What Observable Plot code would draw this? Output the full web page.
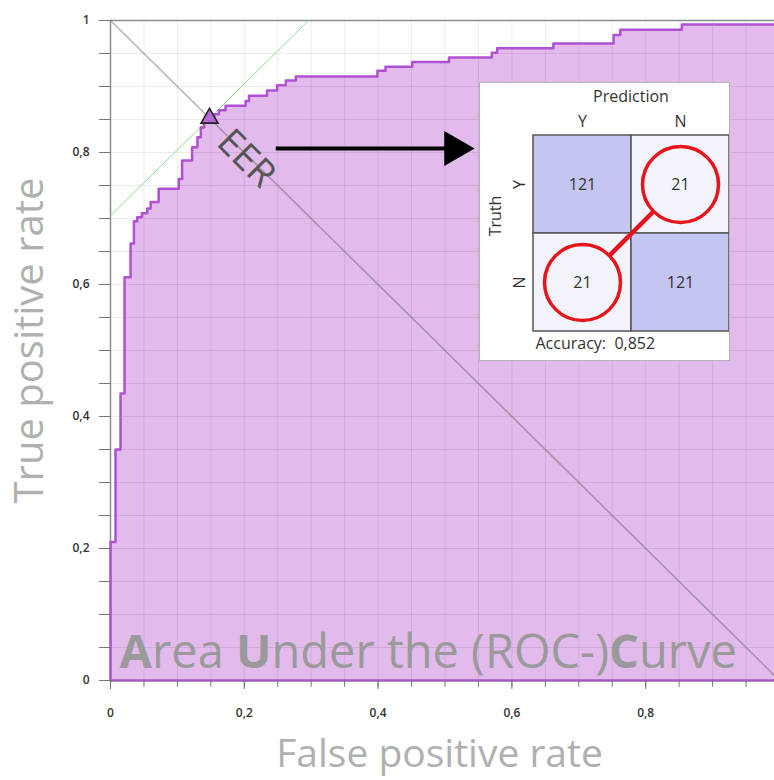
<!DOCTYPE html>
<html>
<head>
<meta charset="utf-8">
<script src="https://cdn.jsdelivr.net/npm/d3@7"></script>
<script src="https://cdn.jsdelivr.net/npm/@observablehq/plot@0.6"></script>
<style>
  html, body { margin: 0; padding: 0; background: #fff; overflow: hidden; }
  #wrap { position: relative; width: 774px; height: 780px; overflow: hidden; background: #fff; }
  #inset { position: absolute; left: 480px; top: 83px; width: 249px; height: 277px;
           background: #fff; outline: 1.5px solid #b4b4b4; }
  svg { display: block; }
</style>
</head>
<body>
<div id="wrap"><div id="main"></div><div id="inset"></div></div>
<script>
// ROC curve vertices (step-after): false positive rate / true positive rate
const fpr = [0, 0, 0.0075, 0.015, 0.021, 0.030, 0.035, 0.040, 0.047, 0.055, 0.060, 0.072, 0.102, 0.107, 0.122, 0.130, 0.135, 0.140, 0.148, 0.155, 0.162, 0.172, 0.202, 0.207, 0.234, 0.249, 0.262, 0.277, 0.399, 0.411, 0.451, 0.506, 0.570, 0.578, 0.662, 0.752, 0.762, 0.854, 1.0];
const tpr = [0, 0.21, 0.35, 0.435, 0.611, 0.662, 0.696, 0.702, 0.708, 0.715, 0.725, 0.745, 0.760, 0.788, 0.808, 0.823, 0.838, 0.845, 0.852, 0.858, 0.864, 0.871, 0.878, 0.886, 0.894, 0.902, 0.909, 0.915, 0.924, 0.930, 0.937, 0.944, 0.951, 0.958, 0.965, 0.978, 0.986, 0.994, 1.0];

// Equal error rate point
const eerPoint = {fpr: 0.148, tpr: 0.852};

// Axis ticks
const yMajorTicks = [0, 0.2, 0.4, 0.6, 0.8, 1];
const xMajorTicks = [0, 0.2, 0.4, 0.6, 0.8];
const majorTickLabels = ["0", "0,2", "0,4", "0,6", "0,8", "1"];
const minorTicks = d3.range(0, 21).map(i => i / 20);

// Texts
const xLabel = "False positive rate";
const yLabel = "True positive rate";
const eerLabel = "EER";
const aucParts = [["A", 700], ["rea ", 400], ["U", 700], ["nder the (ROC-)", 400], ["C", 700], ["urve", 400]];
const aucTitle = aucParts.map(d => d[0]).join("");

// Confusion matrix
const predictionLevels = ["Y", "N"];
const truthLevels = ["Y", "N"];
const counts = [[121, 21], [21, 121]]; // rows: truth, cols: prediction
const accuracyLabel = "Accuracy:";

const roc = fpr.map((x, i) => ({fpr: x, tpr: tpr[i]}));
const tickLabel = d => majorTickLabels[yMajorTicks.indexOf(d)] ?? "";
const diag = [{fpr: 0, tpr: 1}, {fpr: 1, tpr: 0}];
const eerOffset = eerPoint.tpr - eerPoint.fpr;
const eerLine = [{fpr: 0, tpr: eerOffset}, {fpr: 1 - eerOffset, tpr: 1}];
const arrowSpec = {x1: 0.247, x2: 0.50, y: 0.806, head: 0.514};

const main = Plot.plot({
  width: 774,
  height: 780,
  marginLeft: 110,
  marginRight: 0,
  marginTop: 20,
  marginBottom: 100,
  style: {fontFamily: "'Open Sans', sans-serif", fontSize: "12px", color: "#333", background: "#fff"},
  x: {domain: [0, 1], range: [110, 779]},
  y: {domain: [0, 1], range: [680, 20]},
  marks: [
    Plot.areaY(roc, {x: "fpr", y: "tpr", curve: "step-after", fill: "#e2baec"}),
    Plot.gridX(minorTicks, {stroke: "#000", strokeOpacity: 0.075, strokeWidth: 1}),
    Plot.gridY(minorTicks, {stroke: "#000", strokeOpacity: 0.075, strokeWidth: 1}),
    Plot.ruleY([1], {stroke: "#8c8c8c", strokeWidth: 1.5}),
    Plot.ruleX([0], {stroke: "#8c8c8c", strokeWidth: 1.5}),
    Plot.line(diag, {x: "fpr", y: "tpr", stroke: "#6e6e6e", strokeOpacity: 0.5, strokeWidth: 1.6}),
    Plot.line(eerLine, {x: "fpr", y: "tpr", stroke: "#8fdc8f", strokeWidth: 1}),
    Plot.ruleY([0], {stroke: "#a35bbd", strokeWidth: 2.5}),
    Plot.line(roc, {x: "fpr", y: "tpr", curve: "step-after", stroke: "#b050d2", strokeWidth: 2.5}),
    Plot.axisY({ticks: minorTicks, tickSize: 11, tickFormat: () => "", label: null, stroke: "#777"}),
    Plot.axisY({ticks: yMajorTicks, tickSize: 11, tickPadding: 10, tickFormat: tickLabel, label: null, fill: "#333", fontWeight: 600, stroke: "#777"}),
    Plot.axisX({ticks: minorTicks, tickSize: 7, tickFormat: () => "", label: null, stroke: "#777"}),
    Plot.axisX({ticks: xMajorTicks, tickSize: 9, tickPadding: 19, tickFormat: tickLabel, label: null, fill: "#333", fontWeight: 600, stroke: "#777"}),
    Plot.dot([eerPoint], {x: "fpr", y: "tpr", symbol: "triangle", r: 6.3, fill: "#b86ad2", stroke: "#222", strokeWidth: 1.6}),
    Plot.text([eerLabel], {x: 0.203, y: 0.791, text: d => d, rotate: 45, fontSize: 37, fill: "#555"}),
    Plot.link([arrowSpec], {x1: "x1", x2: "x2", y1: "y", y2: "y", stroke: "#000", strokeWidth: 4}),
    Plot.dot([arrowSpec], {x: "head", y: "y", symbol: "triangle", rotate: 90, r: 13, fill: "#000"}),
    Plot.text([aucTitle], {x: 0.475, y: 0.042, text: d => d, fontSize: 47, fill: "#9a9a9a"}),
    Plot.text([yLabel], {frameAnchor: "left", textAnchor: "middle", rotate: -90, dx: -80, dy: -10, text: d => d, fontSize: 40, fill: "#b0b0b0"}),
    Plot.text([xLabel], {frameAnchor: "bottom", textAnchor: "middle", dy: 86, dx: -3, text: d => d, fontSize: 39, fill: "#b0b0b0"})
  ]
});

// Bold initials in the AUC title
d3.select(main).selectAll("text").filter(function () { return this.textContent === aucTitle; })
  .each(function () {
    const t = d3.select(this);
    t.text(null).style("white-space", "pre");
    aucParts.forEach(([s, w]) => t.append("tspan").attr("font-weight", w).text(s));
  });
document.getElementById("main").appendChild(main);

// Confusion matrix inset
const cm = [];
truthLevels.forEach((t, i) => predictionLevels.forEach((p, j) => cm.push({truth: t, pred: p, n: counts[i][j], diag: i === j})));
const off = cm.filter(d => !d.diag);
const total = d3.sum(cm, d => d.n);
const accuracy = d3.sum(cm.filter(d => d.diag), d => d.n) / total;

const inset = Plot.plot({
  width: 249,
  height: 277,
  marginLeft: 52,
  marginRight: 0,
  marginTop: 51,
  marginBottom: 29,
  style: {fontFamily: "'Open Sans', sans-serif", fontSize: "16px", color: "#333", background: "transparent"},
  x: {domain: predictionLevels, padding: 0, axis: null},
  y: {domain: truthLevels, padding: 0, axis: null},
  marks: [
    Plot.cell(cm, {x: "pred", y: "truth", fill: d => d.diag ? "#c5c5f1" : "#f3f3fb", stroke: "#555", strokeWidth: 1.5}),
    Plot.ruleY(["N"], {y: "N", dy: -49.5, stroke: "#111", strokeWidth: 3}),
    Plot.link([off], {x1: () => off[0].pred, y1: () => off[0].truth, x2: () => off[1].pred, y2: () => off[1].truth, stroke: "#e8141c", strokeWidth: 4.5}),
    Plot.dot(off, {x: "pred", y: "truth", r: 38, fill: "#f3f3fb", stroke: "#e8141c", strokeWidth: 3.5}),
    Plot.text(cm, {x: "pred", y: "truth", text: d => String(d.n), fontSize: 16, fill: "#333"}),
    Plot.axisX({anchor: "top", tickSize: 0, tickPadding: 8, label: "Prediction", labelAnchor: "center", labelOffset: 44, fontSize: 16, fill: "#333"}),
    Plot.axisY({anchor: "left", tickSize: 0, tickPadding: 8, tickRotate: -90, label: null, fontSize: 16, fill: "#333"}),
    Plot.text(["Truth"], {frameAnchor: "left", textAnchor: "middle", rotate: -90, dx: -37, dy: -17, text: d => d, fontSize: 16, fill: "#333"}),
    Plot.text([`${accuracyLabel}  ${accuracy.toFixed(3).replace(".", ",")}`], {frameAnchor: "bottom-left", dx: 3, dy: 17, textAnchor: "start", text: d => d, fontSize: 16, fill: "#333"})
  ]
});
document.getElementById("inset").appendChild(inset);
</script>
</body>
</html>
